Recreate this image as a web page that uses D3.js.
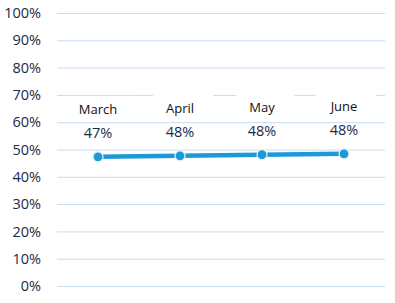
<!DOCTYPE html>
<html>
<head>
<meta charset="utf-8">
<script src="https://cdn.jsdelivr.net/npm/d3@7"></script>
<style>
  body { margin: 0; background: #fff; }
  svg { display: block; }
</style>
</head>
<body>
<svg id="drawing_region"></svg>
<script>
const months = ['March', 'April', 'May', 'June'];
const values = [0.473, 0.477, 0.481, 0.484];
const valueLabels = ['47%', '48%', '48%', '48%'];
const yTicks = [0, 0.1, 0.2, 0.3, 0.4, 0.5, 0.6, 0.7, 0.8, 0.9, 1];

const width = 395, height = 303;
const margin = {top: 13, right: 10, bottom: 17, left: 57};

const svg = d3.select('#drawing_region')
    .attr('width', width)
    .attr('height', height);

const xscale = d3.scaleBand()
    .domain(months)
    .range([margin.left, width - margin.right]);
const yscale = d3.scaleLinear()
    .domain([0, 1])
    .range([height - margin.bottom, margin.top]);

// gridlines + y axis labels
const yaxis = d3.axisLeft(yscale)
    .tickValues(yTicks)
    .tickFormat(d3.format('.0%'))
    .tickSize(-(width - margin.left - margin.right))
    .tickPadding(16);
const yaxis_group = svg.append('g')
    .attr('transform', `translate(${margin.left}, 0)`)
    .call(yaxis);
yaxis_group.select('.domain').remove();
yaxis_group.selectAll('.tick line')
    .attr('stroke', '#c9dcf0')
    .attr('stroke-width', 1);
yaxis_group.selectAll('.tick text')
    .attr('fill', '#1b2a47')
    .style('font-family', 'Open Sans, sans-serif')
    .style('font-size', '14.5px');

const cx = d => xscale(d) + xscale.bandwidth() / 2;

// line
const line = d3.line()
    .x((d, i) => cx(months[i]))
    .y(d => yscale(d));
svg.append('path')
    .datum(values)
    .attr('fill', 'none')
    .attr('stroke', '#1a9bd7')
    .attr('stroke-width', 4.5)
    .attr('d', line);

// markers
svg.selectAll('circle.pt')
    .data(values)
    .enter()
    .append('circle')
    .attr('class', 'pt')
    .attr('cx', (d, i) => cx(months[i]))
    .attr('cy', d => yscale(d))
    .attr('r', 5)
    .attr('fill', '#1a9bd7')
    .attr('stroke', '#e8f2fa')
    .attr('stroke-width', 1.2);

// data labels
const labels = svg.selectAll('g.lbl')
    .data(values)
    .enter()
    .append('g')
    .attr('class', 'lbl');

labels.append('rect')
    .attr('fill', '#ffffff');

labels.append('text')
    .attr('class', 'month')
    .attr('x', (d, i) => cx(months[i]))
    .attr('y', d => yscale(d) - 43)
    .attr('text-anchor', 'middle')
    .attr('fill', '#111111')
    .style('font-family', 'Open Sans, sans-serif')
    .style('font-size', '13px')
    .text((d, i) => months[i]);

labels.append('text')
    .attr('class', 'val')
    .attr('x', (d, i) => cx(months[i]))
    .attr('y', d => yscale(d) - 19)
    .attr('text-anchor', 'middle')
    .attr('fill', '#1b2a47')
    .style('font-family', 'Open Sans, sans-serif')
    .style('font-size', '14.5px')
    .text((d, i) => valueLabels[i]);

labels.each(function() {
    const g = d3.select(this);
    const bb = g.select('text.month').node().getBBox();
    g.select('rect')
        .attr('x', bb.x - 13)
        .attr('y', bb.y - 4)
        .attr('width', bb.width + 32)
        .attr('height', bb.height + 6);
});
</script>
</body>
</html>
